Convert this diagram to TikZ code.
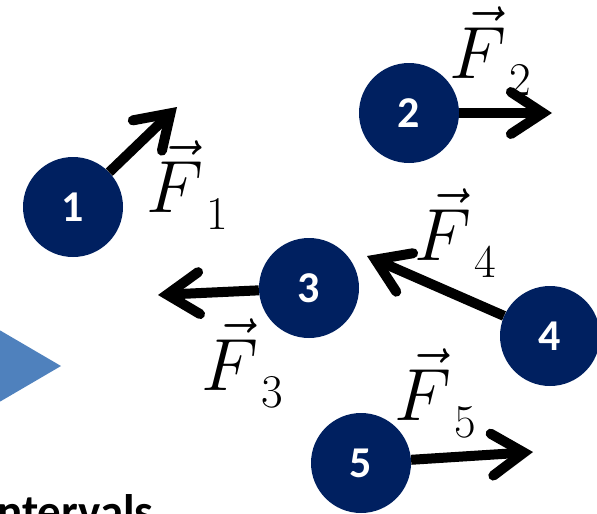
\RequirePackage{fix-cm}
\documentclass[tikz,border=0pt]{standalone}
\usepackage{fontspec}
\newfontfamily\calib{Carlito}
\usetikzlibrary{arrows.meta}
\definecolor{navy}{HTML}{002060}
\definecolor{triblue}{HTML}{4F81BD}
\newcommand\flab[1]{$\vec{F}$\hspace{3pt}\raisebox{-17pt}{\fontsize{47}{47}\selectfont #1}}
\tikzset{
  ball/.style={circle, fill=navy, minimum size=100pt, inner sep=0pt, text=white, font=\calib\bfseries\fontsize{44}{44}\selectfont},
  force/.style={line width=10pt, -{Straight Barb[length=32pt, width=42pt, line cap=round, line join=miter]}},
  flabel/.style={anchor=base west, inner sep=0pt, font=\fontsize{74}{74}\selectfont}
}
\begin{document}
\begin{tikzpicture}[x=1pt, y=-1pt]
\useasboundingbox (0,0) rectangle (597,514);
\clip (0,0) rectangle (597,514);
% triangle and cut text
\fill[triblue] (-40,307) -- (61,366) -- (-40,425) -- cycle;
\node[anchor=base west, inner sep=0pt, font=\calib\bfseries\fontsize{47}{47}\selectfont] (txt) at (-3,527) {ntervals};
% balls
\node[ball] (c1) at (73,207) {1};
\node[ball] (c2) at (409,113) {2};
\node[ball] (c3) at (309,288) {3};
\node[ball] (c4) at (550,336) {4};
\node[ball] (c5) at (361,463) {5};
% arrow tips
\coordinate (t1) at (177,107);
\coordinate (t2) at (552,113);
\coordinate (t3) at (158,295);
\coordinate (t4) at (367,256);
\coordinate (t5) at (533,452);
\draw[force] (c1) -- (t1);
\draw[force] (c2) -- (t2);
\draw[force] (c3) -- (t3);
\draw[force] (c4) -- (t4);
\draw[force] (c5) -- (t5);
% labels
\node[flabel] (f1) at (146,212) {\flab{1}};
\node[flabel] (f2) at (449,78) {\flab{2}};
\node[flabel] (f3) at (201,390) {\flab{3}};
\node[flabel] (f4) at (414,260) {\flab{4}};
\node[flabel] (f5) at (394,420) {\flab{5}};
\end{tikzpicture}
\end{document}
